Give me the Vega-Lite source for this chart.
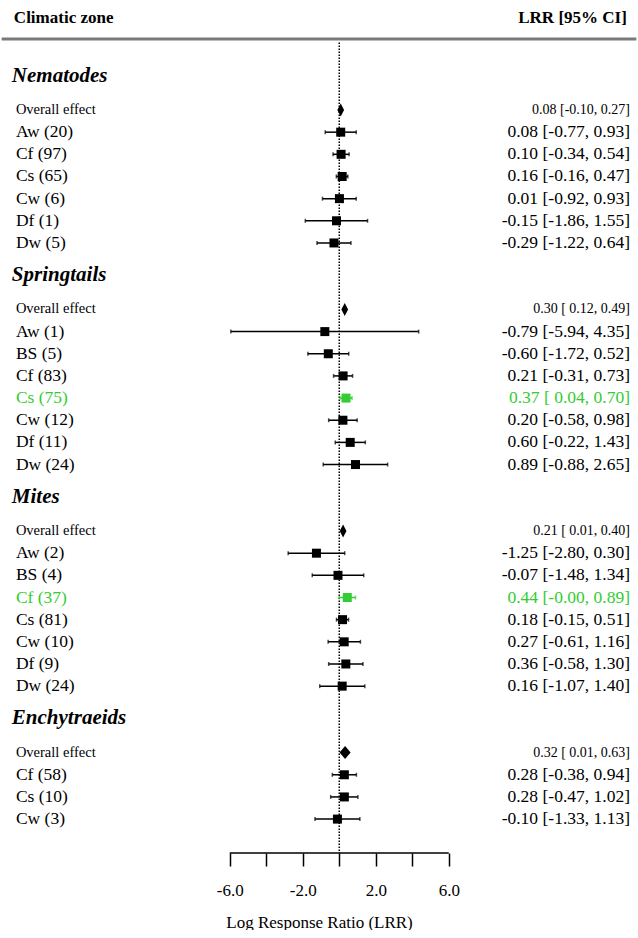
{
  "$schema": "https://vega.github.io/schema/vega-lite/v6.json",
  "width": 638,
  "height": 853,
  "padding": 0,
  "autosize": {"type": "pad"},
  "background": "white",
  "config": {"view": {"stroke": null}, "font": "Liberation Serif"},
  "datasets": {
    "rows": [
      {"group": "Nematodes", "label": "Overall effect", "type": "overall", "row": 0, "est": 0.08, "lo": -0.10, "hi": 0.27, "ci": "0.08 [-0.10, 0.27]", "sig": false},
      {"group": "Nematodes", "label": "Aw (20)", "type": "item", "row": 1, "est": 0.08, "lo": -0.77, "hi": 0.93, "ci": "0.08 [-0.77, 0.93]", "sig": false},
      {"group": "Nematodes", "label": "Cf (97)", "type": "item", "row": 2, "est": 0.10, "lo": -0.34, "hi": 0.54, "ci": "0.10 [-0.34, 0.54]", "sig": false},
      {"group": "Nematodes", "label": "Cs (65)", "type": "item", "row": 3, "est": 0.16, "lo": -0.16, "hi": 0.47, "ci": "0.16 [-0.16, 0.47]", "sig": false},
      {"group": "Nematodes", "label": "Cw (6)", "type": "item", "row": 4, "est": 0.01, "lo": -0.92, "hi": 0.93, "ci": "0.01 [-0.92, 0.93]", "sig": false},
      {"group": "Nematodes", "label": "Df (1)", "type": "item", "row": 5, "est": -0.15, "lo": -1.86, "hi": 1.55, "ci": "-0.15 [-1.86, 1.55]", "sig": false},
      {"group": "Nematodes", "label": "Dw (5)", "type": "item", "row": 6, "est": -0.29, "lo": -1.22, "hi": 0.64, "ci": "-0.29 [-1.22, 0.64]", "sig": false},
      {"group": "Springtails", "label": "Overall effect", "type": "overall", "row": 9, "est": 0.30, "lo": 0.12, "hi": 0.49, "ci": "0.30 [ 0.12, 0.49]", "sig": false},
      {"group": "Springtails", "label": "Aw (1)", "type": "item", "row": 10, "est": -0.79, "lo": -5.94, "hi": 4.35, "ci": "-0.79 [-5.94, 4.35]", "sig": false},
      {"group": "Springtails", "label": "BS (5)", "type": "item", "row": 11, "est": -0.60, "lo": -1.72, "hi": 0.52, "ci": "-0.60 [-1.72, 0.52]", "sig": false},
      {"group": "Springtails", "label": "Cf (83)", "type": "item", "row": 12, "est": 0.21, "lo": -0.31, "hi": 0.73, "ci": "0.21 [-0.31, 0.73]", "sig": false},
      {"group": "Springtails", "label": "Cs (75)", "type": "item", "row": 13, "est": 0.37, "lo": 0.04, "hi": 0.70, "ci": "0.37 [ 0.04, 0.70]", "sig": true},
      {"group": "Springtails", "label": "Cw (12)", "type": "item", "row": 14, "est": 0.20, "lo": -0.58, "hi": 0.98, "ci": "0.20 [-0.58, 0.98]", "sig": false},
      {"group": "Springtails", "label": "Df (11)", "type": "item", "row": 15, "est": 0.60, "lo": -0.22, "hi": 1.43, "ci": "0.60 [-0.22, 1.43]", "sig": false},
      {"group": "Springtails", "label": "Dw (24)", "type": "item", "row": 16, "est": 0.89, "lo": -0.88, "hi": 2.65, "ci": "0.89 [-0.88, 2.65]", "sig": false},
      {"group": "Mites", "label": "Overall effect", "type": "overall", "row": 19, "est": 0.21, "lo": 0.01, "hi": 0.40, "ci": "0.21 [ 0.01, 0.40]", "sig": false},
      {"group": "Mites", "label": "Aw (2)", "type": "item", "row": 20, "est": -1.25, "lo": -2.80, "hi": 0.30, "ci": "-1.25 [-2.80, 0.30]", "sig": false},
      {"group": "Mites", "label": "BS (4)", "type": "item", "row": 21, "est": -0.07, "lo": -1.48, "hi": 1.34, "ci": "-0.07 [-1.48, 1.34]", "sig": false},
      {"group": "Mites", "label": "Cf (37)", "type": "item", "row": 22, "est": 0.44, "lo": -0.00, "hi": 0.89, "ci": "0.44 [-0.00, 0.89]", "sig": true},
      {"group": "Mites", "label": "Cs (81)", "type": "item", "row": 23, "est": 0.18, "lo": -0.15, "hi": 0.51, "ci": "0.18 [-0.15, 0.51]", "sig": false},
      {"group": "Mites", "label": "Cw (10)", "type": "item", "row": 24, "est": 0.27, "lo": -0.61, "hi": 1.16, "ci": "0.27 [-0.61, 1.16]", "sig": false},
      {"group": "Mites", "label": "Df (9)", "type": "item", "row": 25, "est": 0.36, "lo": -0.58, "hi": 1.30, "ci": "0.36 [-0.58, 1.30]", "sig": false},
      {"group": "Mites", "label": "Dw (24)", "type": "item", "row": 26, "est": 0.16, "lo": -1.07, "hi": 1.40, "ci": "0.16 [-1.07, 1.40]", "sig": false},
      {"group": "Enchytraeids", "label": "Overall effect", "type": "overall", "row": 29, "est": 0.32, "lo": 0.01, "hi": 0.63, "ci": "0.32 [ 0.01, 0.63]", "sig": false},
      {"group": "Enchytraeids", "label": "Cf (58)", "type": "item", "row": 30, "est": 0.28, "lo": -0.38, "hi": 0.94, "ci": "0.28 [-0.38, 0.94]", "sig": false},
      {"group": "Enchytraeids", "label": "Cs (10)", "type": "item", "row": 31, "est": 0.28, "lo": -0.47, "hi": 1.02, "ci": "0.28 [-0.47, 1.02]", "sig": false},
      {"group": "Enchytraeids", "label": "Cw (3)", "type": "item", "row": 32, "est": -0.10, "lo": -1.33, "hi": 1.13, "ci": "-0.10 [-1.33, 1.13]", "sig": false}
    ],
    "headers": [
      {"label": "Nematodes", "row": -1.55},
      {"label": "Springtails", "row": 7.45},
      {"label": "Mites", "row": 17.45},
      {"label": "Enchytraeids", "row": 27.45}
    ]
  },
  "layer": [
    {
      "data": {"values": [{}]},
      "mark": {"type": "rule", "color": "#7a7a7a", "strokeWidth": 3},
      "encoding": {
        "x": {"datum": -18.5, "type": "quantitative", "scale": {"domain": [-18.59, 16.37], "nice": false, "zero": false}},
        "x2": {"datum": 16.28},
        "y": {"datum": -3.2, "type": "quantitative", "scale": {"domain": [-4.964, 33.53], "reverse": true, "nice": false, "zero": false}, "axis": null}
      }
    },
    {
      "data": {"values": [{}]},
      "mark": {"type": "rule", "color": "black", "strokeWidth": 1.5, "strokeDash": [1.5, 1.5]},
      "encoding": {
        "x": {"datum": 0, "type": "quantitative"},
        "y": {"datum": -3.05, "type": "quantitative", "axis": null},
        "y2": {"datum": 33.53}
      }
    },
    {
      "data": {"values": [{}]},
      "mark": {"type": "rule", "color": "black", "strokeWidth": 1.5},
      "encoding": {
        "x": {"datum": -6, "type": "quantitative"},
        "x2": {"datum": 6},
        "y": {"datum": 33.53, "type": "quantitative", "axis": null}
      }
    },
    {
      "data": {"name": "rows"},
      "transform": [{"filter": "datum.type == 'item'"}],
      "mark": {"type": "rule", "strokeWidth": 1.5},
      "encoding": {
        "x": {
          "field": "lo", "type": "quantitative",
          "axis": {
            "values": [-6, -4, -2, 0, 2, 4, 6],
            "domain": false, "grid": false,
            "tickSize": 13, "tickWidth": 1.5, "tickColor": "black",
            "labelExpr": "(datum.value == -6 || datum.value == -2 || datum.value == 2 || datum.value == 6) ? (datum.value + '.0') : ''",
            "labelFont": "Liberation Serif", "labelFontSize": 17, "labelColor": "black", "labelPadding": 16,
            "title": "Log Response Ratio (LRR)", "titleFont": "Liberation Serif", "titleFontSize": 17,
            "titleFontWeight": "normal", "titleColor": "black", "titlePadding": 16
          }
        },
        "x2": {"field": "hi"},
        "y": {"field": "row", "type": "quantitative", "axis": null},
        "color": {"condition": {"test": "datum.sig", "value": "#33cc33"}, "value": "black"}
      }
    },
    {
      "data": {"name": "rows"},
      "transform": [{"filter": "datum.type == 'item'"}],
      "mark": {"type": "tick", "orient": "vertical", "size": 4, "thickness": 1.5},
      "encoding": {
        "x": {"field": "lo", "type": "quantitative"},
        "y": {"field": "row", "type": "quantitative", "axis": null},
        "color": {"condition": {"test": "datum.sig", "value": "#33cc33"}, "value": "black"}
      }
    },
    {
      "data": {"name": "rows"},
      "transform": [{"filter": "datum.type == 'item'"}],
      "mark": {"type": "tick", "orient": "vertical", "size": 4, "thickness": 1.5},
      "encoding": {
        "x": {"field": "hi", "type": "quantitative"},
        "y": {"field": "row", "type": "quantitative", "axis": null},
        "color": {"condition": {"test": "datum.sig", "value": "#33cc33"}, "value": "black"}
      }
    },
    {
      "data": {"name": "rows"},
      "transform": [{"filter": "datum.type == 'item'"}],
      "mark": {"type": "point", "shape": "square", "filled": true, "size": 81, "opacity": 1},
      "encoding": {
        "x": {"field": "est", "type": "quantitative"},
        "y": {"field": "row", "type": "quantitative", "axis": null},
        "color": {"condition": {"test": "datum.sig", "value": "#33cc33"}, "value": "black"}
      }
    },
    {
      "data": {"name": "rows"},
      "transform": [{"filter": "datum.type == 'overall' && datum.group != 'Enchytraeids'"}],
      "mark": {"type": "point", "shape": "M0,-1L0.52,0L0,1L-0.52,0Z", "filled": true, "size": 169, "opacity": 1, "color": "black"},
      "encoding": {
        "x": {"field": "est", "type": "quantitative"},
        "y": {"field": "row", "type": "quantitative", "axis": null}
      }
    },
    {
      "data": {"name": "rows"},
      "transform": [{"filter": "datum.type == 'overall' && datum.group == 'Enchytraeids'"}],
      "mark": {"type": "point", "shape": "M0,-1L0.85,0L0,1L-0.85,0Z", "filled": true, "size": 169, "opacity": 1, "color": "black"},
      "encoding": {
        "x": {"field": "est", "type": "quantitative"},
        "y": {"field": "row", "type": "quantitative", "axis": null}
      }
    },
    {
      "data": {"name": "rows"},
      "transform": [{"filter": "datum.type == 'item'"}],
      "mark": {"type": "text", "align": "left", "baseline": "middle", "font": "Liberation Serif", "fontSize": 17.5},
      "encoding": {
        "x": {"datum": -17.72, "type": "quantitative"},
        "y": {"field": "row", "type": "quantitative", "axis": null},
        "text": {"field": "label"},
        "color": {"condition": {"test": "datum.sig", "value": "#33cc33"}, "value": "black"}
      }
    },
    {
      "data": {"name": "rows"},
      "transform": [{"filter": "datum.type == 'item'"}],
      "mark": {"type": "text", "align": "right", "baseline": "middle", "font": "Liberation Serif", "fontSize": 17.5},
      "encoding": {
        "x": {"datum": 15.93, "type": "quantitative"},
        "y": {"field": "row", "type": "quantitative", "axis": null},
        "text": {"field": "ci"},
        "color": {"condition": {"test": "datum.sig", "value": "#33cc33"}, "value": "black"}
      }
    },
    {
      "data": {"name": "rows"},
      "transform": [{"filter": "datum.type == 'overall'"}],
      "mark": {"type": "text", "align": "left", "baseline": "middle", "font": "Liberation Serif", "fontSize": 14.5, "color": "black"},
      "encoding": {
        "x": {"datum": -17.72, "type": "quantitative"},
        "y": {"field": "row", "type": "quantitative", "axis": null},
        "text": {"field": "label"}
      }
    },
    {
      "data": {"name": "rows"},
      "transform": [{"filter": "datum.type == 'overall'"}],
      "mark": {"type": "text", "align": "right", "baseline": "middle", "font": "Liberation Serif", "fontSize": 14, "color": "black"},
      "encoding": {
        "x": {"datum": 15.93, "type": "quantitative"},
        "y": {"field": "row", "type": "quantitative", "axis": null},
        "text": {"field": "ci"}
      }
    },
    {
      "data": {"name": "headers"},
      "mark": {"type": "text", "align": "left", "baseline": "middle", "font": "Liberation Serif", "fontSize": 21, "fontWeight": "bold", "fontStyle": "italic", "color": "black"},
      "encoding": {
        "x": {"datum": -17.94, "type": "quantitative"},
        "y": {"field": "row", "type": "quantitative", "axis": null},
        "text": {"field": "label"}
      }
    },
    {
      "data": {"values": [{"t": "Climatic zone"}]},
      "mark": {"type": "text", "align": "left", "baseline": "middle", "font": "Liberation Serif", "fontSize": 17, "fontWeight": "bold", "color": "black"},
      "encoding": {
        "x": {"datum": -17.83, "type": "quantitative"},
        "y": {"datum": -4.15, "type": "quantitative", "axis": null},
        "text": {"field": "t"}
      }
    },
    {
      "data": {"values": [{"t": "LRR [95% CI]"}]},
      "mark": {"type": "text", "align": "right", "baseline": "middle", "font": "Liberation Serif", "fontSize": 17, "fontWeight": "bold", "color": "black"},
      "encoding": {
        "x": {"datum": 15.76, "type": "quantitative"},
        "y": {"datum": -4.15, "type": "quantitative", "axis": null},
        "text": {"field": "t"}
      }
    }
  ]
}
